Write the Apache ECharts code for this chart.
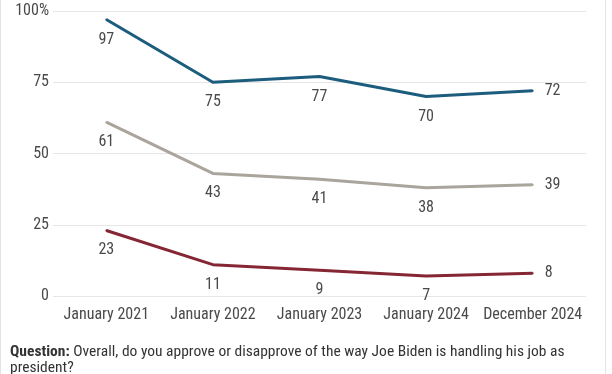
<!DOCTYPE html>
<html>
<head>
<meta charset="utf-8">
<script src="https://cdn.jsdelivr.net/npm/echarts@6/dist/echarts.min.js"></script>
<style>
html,body{margin:0;padding:0;background:#fff;}
#c{width:612px;height:374px;}
</style>
</head>
<body>
<div id="c"></div>
<script>
const categories = ["January 2021", "January 2022", "January 2023", "January 2024", "December 2024"];
const seriesBlue = [97, 75, 77, 70, 72];
const seriesGray = [61, 43, 41, 38, 39];
const seriesRed = [23, 11, 9, 7, 8];
const yTicks = [0, 25, 50, 75, 100];

const FONT = "'Roboto Condensed', 'Liberation Sans Narrow', Roboto, sans-serif";
const chart = echarts.init(document.getElementById('c'), null, {renderer: 'canvas'});

function mkSeries(name, data, color) {
  return {
    name: name,
    type: 'line',
    data: data.map((v, i) => ({
      value: v,
      label: i === data.length - 1
        ? {position: 'right', distance: 11}
        : (i === 0 ? {position: 'bottom', distance: 11, offset: [7, 0]} : {position: 'bottom', distance: 11})
    })),
    symbol: 'circle',
    symbolSize: 2,
    showSymbol: true,
    lineStyle: {color: color, width: 3},
    itemStyle: {color: color},
    label: {show: true, color: '#4a4a4a', fontSize: 16, fontFamily: FONT},
    labelLayout: {hideOverlap: false},
    animation: false
  };
}

chart.setOption({
  animation: false,
  grid: {left: 53, right: 26, top: 11, bottom: 78, containLabel: false},
  xAxis: {
    type: 'category',
    data: categories,
    boundaryGap: true,
    axisLine: {show: false},
    axisTick: {show: false},
    axisLabel: {color: '#4a4a4a', fontSize: 16, fontFamily: FONT, margin: 11, interval: 0}
  },
  yAxis: {
    type: 'value',
    min: 0, max: 100, interval: 25,
    axisLine: {show: false},
    axisTick: {show: false},
    splitLine: {lineStyle: {color: '#e6e6e6', width: 1}},
    axisLabel: {
      color: '#4a4a4a', fontSize: 16, fontFamily: FONT, margin: 4,
      formatter: v => yTicks.includes(v) ? (v === 100 ? '100%' : String(v)) : ''
    }
  },
  series: [
    mkSeries('Blue', seriesBlue, '#1c5d7d'),
    mkSeries('Gray', seriesGray, '#aaa59c'),
    mkSeries('Red', seriesRed, '#862634')
  ],
  graphic: [
    {
      type: 'text', left: 10, top: 344,
      style: {
        text: '{b|Question:} Overall, do you approve or disapprove of the way Joe Biden is handling his job as\npresident?',
        fontSize: 15.5, fontFamily: FONT, fill: '#333', lineHeight: 16,
        rich: {b: {fontWeight: 'bold', fontSize: 15.5, fontFamily: FONT, fill: '#333'}}
      }
    },
    {
      type: 'rect', shape: {x: 0.5, y: -2, width: 605, height: 400},
      style: {fill: 'none', stroke: '#e4e4e4', lineWidth: 1}, silent: true
    }
  ]
});
</script>
</body>
</html>
